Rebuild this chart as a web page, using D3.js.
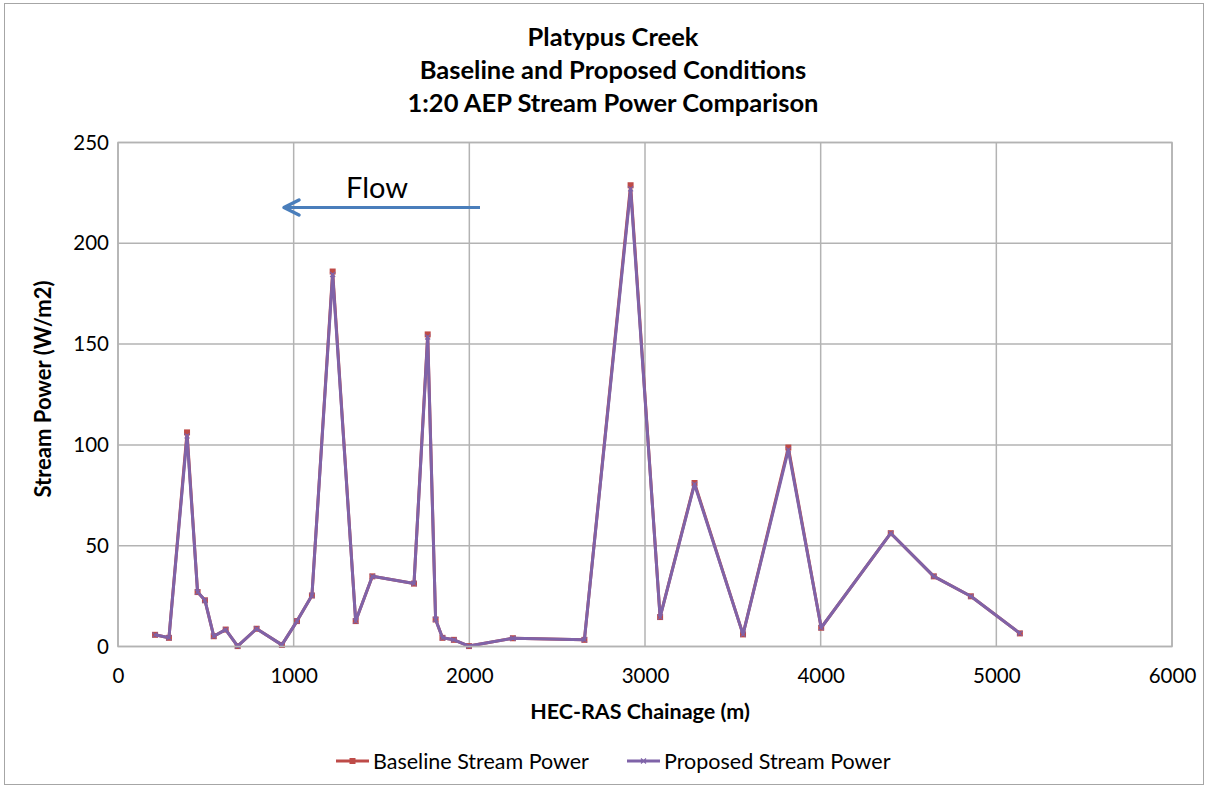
<!DOCTYPE html>
<html><head><meta charset="utf-8">
<script src="https://cdn.jsdelivr.net/npm/d3@7"></script>
<style>
body{margin:0;background:#fff;}
svg{display:block;font-family:Lato,"Open Sans",sans-serif;}
</style></head>
<body>
<svg id="c" width="1208" height="787"></svg>
<script>
const titleLines = ["Platypus Creek","Baseline and Proposed Conditions","1:20 AEP Stream Power Comparison"];
const chainage = [211,290,393,453,495,545,613,681,789,933,1019,1104,1222,1353,1448,1685,1763,1808,1847,1912,1998,2248,2655,2918,3086,3282,3558,3816,4003,4399,4644,4855,5134];
const baseline = [5.8,4.3,106.2,27,22.9,5.1,8.4,0.2,8.8,0.8,12.6,25.3,186,12.6,34.8,31.2,154.8,13.4,4.3,3.3,0.2,4.1,3.3,228.8,14.6,81.1,6,98.7,9.3,56.2,34.8,24.9,6.5];
const proposed = [5.8,4.3,104.5,27,22.9,5.1,8.4,0.2,8.8,0.8,12.6,25.3,184.5,12.6,34.8,31.2,153.5,13.4,4.3,3.3,0.2,4.1,3.3,227,14.6,80.5,6,97.5,9.3,56.2,34.8,24.9,6.5];
const xTicks = [0,1000,2000,3000,4000,5000,6000];
const yTicks = [0,50,100,150,200,250];
const seriesNames = ["Baseline Stream Power","Proposed Stream Power"];

const svg = d3.select("#c");
const L=118, R=1172, T=142.5, B=646.5;
const x = d3.scaleLinear().domain([0,6000]).range([L,R]);
const y = d3.scaleLinear().domain([0,250]).range([B,T]);

svg.append("rect").attr("x",4.5).attr("y",3.5).attr("width",1199).attr("height",781)
  .attr("fill","none").attr("stroke","#a6a6a6").attr("stroke-width",1);

// gridlines
svg.append("g").selectAll("line").data(yTicks).join("line")
  .attr("x1",L).attr("x2",R).attr("y1",d=>y(d)).attr("y2",d=>y(d))
  .attr("stroke","#b3b3b3").attr("stroke-width",1.5);
svg.append("g").selectAll("line").data(xTicks).join("line")
  .attr("y1",T).attr("y2",B).attr("x1",d=>x(d)).attr("x2",d=>x(d))
  .attr("stroke","#b3b3b3").attr("stroke-width",1.5);

// axes (labels only)
const xa = svg.append("g").attr("transform",`translate(0,${B})`)
  .call(d3.axisBottom(x).tickValues(xTicks).tickSize(0).tickPadding(22).tickFormat(d3.format("d")));
xa.select(".domain").remove();
xa.selectAll("text").attr("font-size",20.5).attr("fill","#000").attr("font-family","Lato,'Open Sans',sans-serif");
const ya = svg.append("g").attr("transform",`translate(${L},0)`)
  .call(d3.axisLeft(y).tickValues(yTicks).tickSize(0).tickPadding(9));
ya.select(".domain").remove();
ya.selectAll("text").attr("font-size",20.5).attr("fill","#000").attr("font-family","Lato,'Open Sans',sans-serif");

// title
svg.append("g").selectAll("text").data(titleLines).join("text")
  .attr("x",613).attr("y",(d,i)=>46+i*33).attr("text-anchor","middle")
  .attr("font-size",25.5).attr("font-weight","bold").text(d=>d);

// axis titles
svg.append("text").attr("x",640).attr("y",719).attr("text-anchor","middle")
  .attr("font-size",21.5).attr("font-weight","bold").text("HEC-RAS Chainage (m)");
svg.append("text").attr("transform","translate(51,389) rotate(-90)").attr("text-anchor","middle")
  .attr("font-size",22).attr("font-weight","bold").text("Stream Power (W/m2)");

// series
const red="#be4b48", purple="#7f63a8";
const line = d3.line().x(d=>x(d[0])).y(d=>y(d[1]));
const bData = chainage.map((c,i)=>[c,baseline[i]]);
const pData = chainage.map((c,i)=>[c,proposed[i]]);
svg.append("path").datum(bData).attr("d",line).attr("fill","none").attr("stroke",red).attr("stroke-width",3).attr("stroke-linejoin","round");
svg.append("g").selectAll("rect").data(bData).join("rect")
  .attr("x",d=>x(d[0])-3).attr("y",d=>y(d[1])-3).attr("width",6).attr("height",6).attr("fill",red);
svg.append("path").datum(pData).attr("d",line).attr("fill","none").attr("stroke",purple).attr("stroke-width",3).attr("stroke-linejoin","round");
svg.append("g").selectAll("path.m").data(pData).join("path").attr("class","m")
  .attr("d",d=>{const cx=x(d[0]),cy=y(d[1]);return `M${cx-2.5},${cy-2.5}L${cx+2.5},${cy+2.5}M${cx-2.5},${cy+2.5}L${cx+2.5},${cy-2.5}`;})
  .attr("stroke",purple).attr("stroke-width",1.2);

// plot border
svg.append("rect").attr("x",L).attr("y",T).attr("width",R-L).attr("height",B-T)
  .attr("fill","none").attr("stroke","#b3b3b3").attr("stroke-width",1.5);

// flow arrow
const blue="#4a7ebb";
svg.append("line").attr("x1",480).attr("x2",285).attr("y1",207.5).attr("y2",207.5).attr("stroke",blue).attr("stroke-width",3);
svg.append("path").attr("d","M299,200 L284,207.5 L299,215").attr("fill","none").attr("stroke",blue).attr("stroke-width",3.5).attr("stroke-linecap","round").attr("stroke-linejoin","round");
svg.append("text").attr("x",346).attr("y",198).attr("font-size",29).text("Flow");

// legend
const lg = svg.append("g");
const legItems = [{name:seriesNames[0],c:red,x0:336,tx:373},{name:seriesNames[1],c:purple,x0:627,tx:664}];
legItems.forEach((d,i)=>{
  lg.append("line").attr("x1",d.x0).attr("x2",d.x0+33).attr("y1",761).attr("y2",761).attr("stroke",d.c).attr("stroke-width",3);
  if(i===0) lg.append("rect").attr("x",d.x0+13.5).attr("y",758).attr("width",6).attr("height",6).attr("fill",d.c);
  else lg.append("path").attr("d",`M${d.x0+14},${758.5}L${d.x0+19},${763.5}M${d.x0+14},${763.5}L${d.x0+19},${758.5}`).attr("stroke",d.c).attr("stroke-width",1.2);
  lg.append("text").attr("x",d.tx).attr("y",768.5).attr("font-size",21.5).text(d.name);
});
</script>
</body></html>
